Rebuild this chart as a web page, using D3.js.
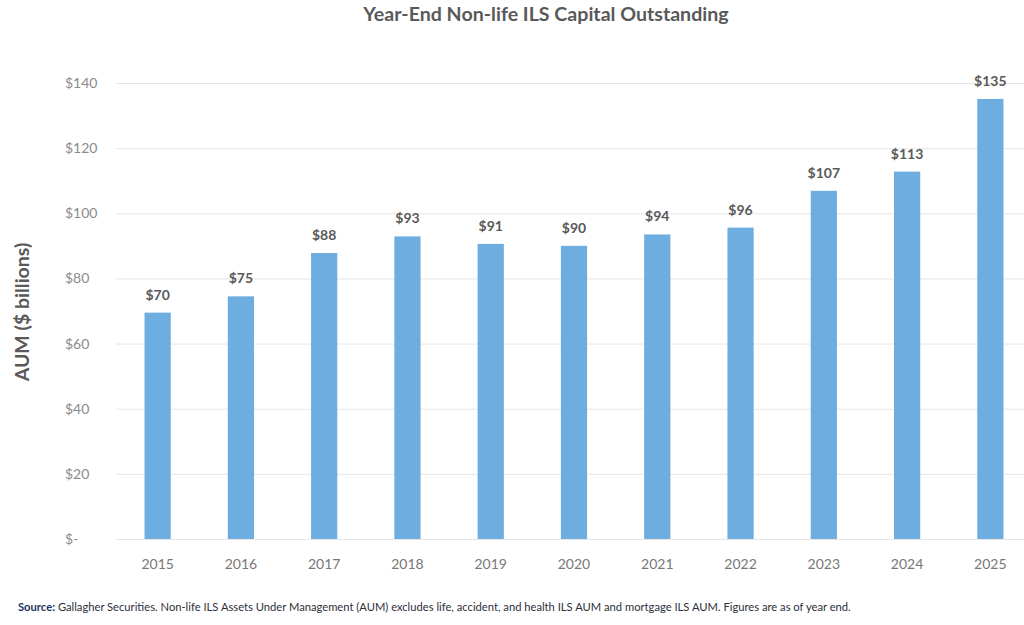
<!DOCTYPE html>
<html><head><meta charset="utf-8">
<script src="https://cdn.jsdelivr.net/npm/d3@7"></script>
<style>body{margin:0;background:#fff;}svg{display:block;font-family:Lato,"Open Sans",sans-serif;}</style>
</head><body>
<svg id="c" width="1024" height="625"></svg>
<script>
const years = ["2015","2016","2017","2018","2019","2020","2021","2022","2023","2024","2025"];
const values = [69.5, 74.5, 87.8, 92.9, 90.6, 90.0, 93.5, 95.6, 106.9, 112.8, 135.1];
const valueLabels = ["$70","$75","$88","$93","$91","$90","$94","$96","$107","$113","$135"];
const yTicks = [0,20,40,60,80,100,120,140];
const yTickLabels = ["$-","$20","$40","$60","$80","$100","$120","$140"];

const svg = d3.select("#c");
const mLeft = 116, mRight = 1024, mTop = 83, mBottom = 539;
const x = d3.scaleBand().domain(years).range([mLeft, 1032]).paddingInner(0.685).paddingOuter(0.3425);
const y = d3.scaleLinear().domain([0,140]).range([mBottom, mTop]);

svg.append("text").attr("x",546).attr("y",21).attr("text-anchor","middle")
  .attr("font-size",19.6).attr("font-weight","bold").attr("fill","#595959")
  .text("Year-End Non-life ILS Capital Outstanding");

// grid
svg.append("g").selectAll("line").data(yTicks).join("line")
  .attr("x1",mLeft).attr("x2",mRight).attr("y1",d=>y(d)+0.5).attr("y2",d=>y(d)+0.5)
  .attr("stroke","#e6e6e6").attr("stroke-width",1);

// y tick labels
svg.append("g").selectAll("text").data(yTicks).join("text")
  .attr("x",65).attr("y",d=>y(d)+5).attr("font-size",14).attr("fill","#8a8a8a")
  .text((d,i)=>yTickLabels[i]);

// y title
svg.append("text").attr("transform","translate(29,"+((mTop+mBottom)/2+1)+") rotate(-90)")
  .attr("text-anchor","middle").attr("font-size",19.5).attr("font-weight","bold").attr("fill","#595959")
  .text("AUM ($ billions)");

// bars
svg.append("g").selectAll("rect").data(values).join("rect")
  .attr("x",(d,i)=>x(years[i])).attr("width",x.bandwidth())
  .attr("y",d=>y(d)).attr("height",d=>y(0)-y(d))
  .attr("fill","#6eaddf");

// value labels
svg.append("g").selectAll("text").data(values).join("text")
  .attr("x",(d,i)=>x(years[i])+x.bandwidth()/2).attr("y",d=>y(d)-13)
  .attr("text-anchor","middle").attr("font-size",14).attr("font-weight","bold").attr("fill","#595959")
  .text((d,i)=>valueLabels[i]);

// x labels
svg.append("g").selectAll("text").data(years).join("text")
  .attr("x",d=>x(d)+x.bandwidth()/2).attr("y",569).attr("text-anchor","middle")
  .attr("font-size",14).attr("fill","#777")
  .text(d=>d);

// source
const src = svg.append("text").attr("x",18).attr("y",611).attr("font-size",11.2).attr("fill","#2b2f3a");
src.append("tspan").attr("font-weight","bold").attr("fill","#1d3461").text("Source:");
src.append("tspan").text(" Gallagher Securities. Non-life ILS Assets Under Management (AUM) excludes life, accident, and health ILS AUM and mortgage ILS AUM. Figures are as of year end.");
</script>
</body></html>
